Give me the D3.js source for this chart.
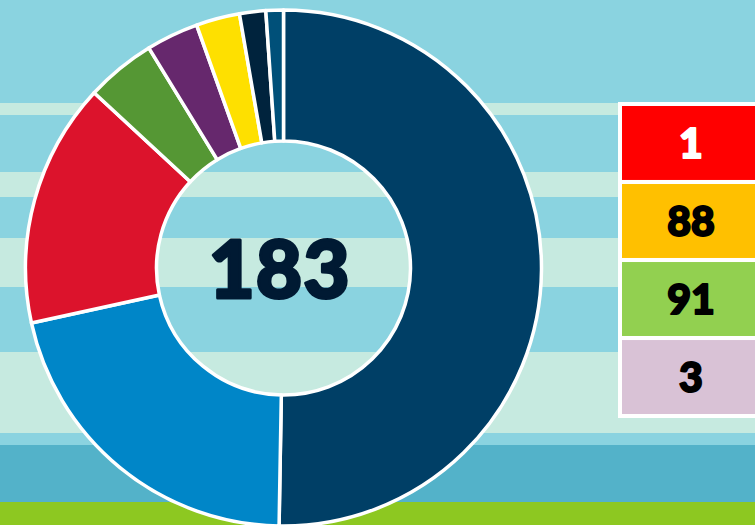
<!DOCTYPE html>
<html>
<head>
<meta charset="utf-8">
<script src="https://cdn.jsdelivr.net/npm/d3@7"></script>
<style>
  html, body { margin: 0; padding: 0; overflow: hidden; }
  svg { display: block; }
</style>
</head>
<body>
<div id="main"></div>
<script>
// seats per group, clockwise from 12 o'clock
const groups = ['g1', 'g2', 'g3', 'g4', 'g5', 'g6', 'g7', 'g8'];
const seats = [92, 39, 28, 8, 6, 5, 3, 2];
const groupColors = ['#003f66', '#0086c8', '#dc132c', '#559734', '#66286d', '#fee000', '#00233d', '#005079'];

// boxes on the right
const boxValues = [1, 88, 91, 3];
const boxColors = ['#ff0000', '#ffc000', '#92d050', '#d9c2d6'];
const boxTextColors = ['#ffffff', '#000000', '#000000', '#000000'];

const w = 755, h = 525;

const svg = d3.select('#main')
    .append('svg')
    .attr('width', w)
    .attr('height', h);

// background bands (y0, y1, colour)
const bands = [
    [0, 103, '#8ad3e0'], [103, 115, '#c6eae0'], [115, 172, '#8ad3e0'],
    [172, 197, '#c6eae0'], [197, 238, '#8ad3e0'], [238, 287, '#c6eae0'],
    [287, 352, '#8ad3e0'], [352, 433, '#c6eae0'], [433, 445, '#8ad3e0'],
    [445, 502, '#53b2c9'], [502, 525, '#8dc821']
];
svg.selectAll('rect.band')
    .data(bands)
    .enter()
    .append('rect')
    .attr('class', 'band')
    .attr('x', 0)
    .attr('y', d => d[0])
    .attr('width', w)
    .attr('height', d => d[1] - d[0])
    .attr('fill', d => d[2]);

// donut
const cx = 283.5, cy = 268;
const pie = d3.pie().sort(null).value(d => d);
const arc = d3.arc().innerRadius(127).outerRadius(258);

const donut = svg.append('g')
    .attr('transform', 'translate(' + cx + ',' + cy + ')');

donut.selectAll('path')
    .data(pie(seats))
    .enter()
    .append('path')
    .attr('d', arc)
    .attr('fill', (d, i) => groupColors[i])
    .attr('stroke', '#ffffff')
    .attr('stroke-width', 3.5)
    .attr('stroke-linejoin', 'round');

// total in the middle (stroke makes the type look heavier)
donut.append('text')
    .attr('x', -4)
    .attr('y', 30)
    .attr('text-anchor', 'middle')
    .attr('fill', '#001a33')
    .attr('stroke', '#001a33')
    .attr('stroke-width', 3)
    .attr('stroke-linejoin', 'round')
    .style('font-family', 'Lato, Roboto, sans-serif')
    .style('font-weight', 900)
    .style('font-size', '80px')
    .style('letter-spacing', '1px')
    .text(d3.sum(seats));

// boxes
const yBox = d3.scaleBand()
    .domain(d3.range(boxValues.length))
    .range([106, 414])
    .paddingInner(0.052);

svg.append('rect')
    .attr('x', 618)
    .attr('y', 102)
    .attr('width', 150)
    .attr('height', 316)
    .attr('fill', '#ffffff');

const box = svg.selectAll('g.box')
    .data(boxValues)
    .enter()
    .append('g')
    .attr('class', 'box')
    .attr('transform', (d, i) => 'translate(622,' + yBox(i) + ')');

box.append('rect')
    .attr('width', 140)
    .attr('height', yBox.bandwidth())
    .attr('fill', (d, i) => boxColors[i]);

box.append('text')
    .attr('x', 69)
    .attr('y', yBox.bandwidth() / 2 + 15)
    .attr('text-anchor', 'middle')
    .attr('fill', (d, i) => boxTextColors[i])
    .attr('stroke', (d, i) => boxTextColors[i])
    .attr('stroke-width', 2)
    .attr('stroke-linejoin', 'round')
    .style('font-family', 'Lato, Roboto, sans-serif')
    .style('font-weight', 900)
    .style('font-size', '41px')
    .text(d => d);
</script>
</body>
</html>
